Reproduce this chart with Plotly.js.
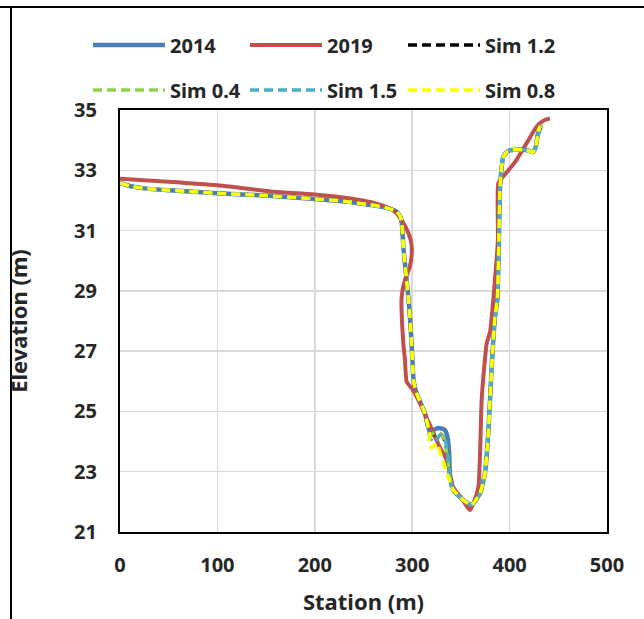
<!DOCTYPE html>
<html>
<head>
<meta charset="utf-8">
<script src="https://cdn.plot.ly/plotly-3.0.1.min.js"></script>
<style>html,body{margin:0;padding:0;background:#fff;}#chart{width:644px;height:619px;}</style>
</head>
<body>
<div id="chart"></div>
<script>
// ---- Data ----
const stn2014 = [0,10,25,50,100,150,200,230,257,272,284,288,289.5,290.9,293.5,296,298,299.5,300.5,301.5,304.6,313,318.3,321.7,326.8,333,336,338,338.8,342,352.5,361,369.6,374.7,378.1,381.6,385,387.4,389,390,391.5,393.5,398,405,417.5,424,427,429,432];
const elev2014 = [32.57,32.48,32.4,32.34,32.24,32.16,32.05,31.97,31.85,31.77,31.63,31.45,31.2,30.46,29.6,28.8,28.0,27.15,26.5,26.0,25.6,24.94,24.3,24.38,24.45,24.4,24.2,23.6,22.85,22.4,22.06,21.9,22.28,22.95,24.27,26.48,28.14,28.7,30.7,32.3,33.0,33.45,33.63,33.68,33.67,33.6,33.8,34.2,34.45];

const stn2019 = [0,50,100,154,200,240,265,278,284,290,295,299,299.5,297.5,292.6,290,289,289.5,291,292.6,294.3,301,308,318,328.5,335.4,342,352,356,359.3,363,368,371.3,374,376.5,380,384,388,388.4,393.5,400,407,417.5,427.8,435,441.5];
const elev2019 = [32.72,32.62,32.5,32.3,32.2,32.05,31.88,31.72,31.57,31.3,31.0,30.6,30.2,29.8,29.36,29.0,28.7,28.0,27.2,26.7,25.99,25.7,25.27,24.56,23.8,23.39,22.5,22.06,21.85,21.73,21.95,22.5,25.38,26.5,27.26,27.65,29.0,30.7,32.57,32.8,33.05,33.34,33.9,34.45,34.65,34.72];

const stnSim12 = [0,10,25,50,100,150,200,230,257,272,284,288,289.5,290.9,293.5,296,298,299.5,300.5,301.5,304.6,313,318.3,322,327,332,335,338,338.8,342,352.5,361,369.6,374.7,378.1,381.6,385,387.4,389,390,391.5,393.5,398,405,417.5,424,427,429,431];
const elevSim12 = [32.57,32.48,32.4,32.34,32.24,32.16,32.05,31.97,31.85,31.77,31.63,31.45,31.2,30.46,29.6,28.8,28.0,27.15,26.5,26.0,25.6,24.94,24.2,24.25,24.3,24.15,23.8,23.0,22.85,22.4,22.06,21.9,22.28,22.95,24.27,26.48,28.14,28.7,30.7,32.3,33.0,33.45,33.63,33.68,33.67,33.6,33.8,34.2,34.45];

const stnSim04 = [0,10,25,50,100,150,200,230,257,272,284,288,289.5,290.9,293.5,296,298,299.5,300.5,301.5,304.6,313,318.3,322,327,332,335,338,338.8,342,352.5,361,369.6,374.7,378.1,381.6,385,387.4,389,390,391.5,393.5,398,405,417.5,424,427,429,431,436];
const elevSim04 = [32.57,32.48,32.4,32.34,32.24,32.16,32.05,31.97,31.85,31.77,31.63,31.45,31.2,30.46,29.6,28.8,28.0,27.15,26.5,26.0,25.6,24.94,24.2,24.28,24.32,24.15,23.8,23.0,22.85,22.4,22.06,21.9,22.28,22.95,24.27,26.48,28.14,28.7,30.7,32.3,33.0,33.45,33.63,33.68,33.67,33.6,33.8,34.2,34.45,34.45];

const stnSim15 = [0,10,25,50,100,150,200,230,257,272,284,288,289.5,290.9,293.5,296,298,299.5,300.5,301.5,304.6,313,318.3,321,325,328.5,333.7,337,338.8,342,352.5,361,369.6,374.7,378.1,381.6,385,387.4,389,390,391.5,393.5,398,405,417.5,424,427,429,431];
const elevSim15 = [32.57,32.48,32.4,32.34,32.24,32.16,32.05,31.97,31.85,31.77,31.63,31.45,31.2,30.46,29.6,28.8,28.0,27.15,26.5,26.0,25.6,24.94,24.16,23.98,24.05,24.22,24.05,23.45,22.85,22.4,22.06,21.9,22.28,22.95,24.27,26.48,28.14,28.7,30.7,32.3,33.0,33.45,33.63,33.68,33.67,33.6,33.8,34.2,34.45];

const stnSim08 = [0,10,25,50,100,150,200,230,257,272,284,288,289.5,290.9,293.5,296,298,299.5,300.5,301.5,304.6,313,318.3,317,320,325,330,337,342,352.5,361,369.6,374.7,378.1,381.6,385,387.4,389,390,391.5,393.5,398,405,417.5,424,427,429,431];
const elevSim08 = [32.57,32.48,32.4,32.34,32.24,32.16,32.05,31.97,31.85,31.77,31.63,31.45,31.2,30.46,29.6,28.8,28.0,27.15,26.5,26.0,25.6,24.94,24.16,24.0,23.78,23.94,23.5,22.83,22.4,22.06,21.9,22.28,22.95,24.27,26.48,28.14,28.7,30.7,32.3,33.0,33.45,33.63,33.68,33.67,33.6,33.8,34.2,34.45];

const seriesNames = ['2014','2019','Sim 1.2','Sim 0.4','Sim 1.5','Sim 0.8'];
const xTicks = [0,100,200,300,400,500];
const yTicks = [21,23,25,27,29,31,33,35];

// ---- Chart ----
const FONT = 'Noto Sans, Open Sans, sans-serif';
const sm = 0.5;
const DASH = '9px,5px';
const legendIds = ['legend','legend2','legend3','legend4','legend5','legend6'];
const traces = [
  {x: stn2014, y: elev2014, name: seriesNames[0], legend: legendIds[0], mode: 'lines',
   line: {color: '#4a7ebb', width: 4.5, shape: 'spline', smoothing: sm}},
  {x: stn2019, y: elev2019, name: seriesNames[1], legend: legendIds[1], mode: 'lines',
   line: {color: '#c0504d', width: 4, shape: 'spline', smoothing: sm}},
  {x: stnSim12, y: elevSim12, name: seriesNames[2], legend: legendIds[2], mode: 'lines',
   line: {color: '#000000', width: 3.5, dash: DASH, shape: 'spline', smoothing: sm}},
  {x: stnSim04, y: elevSim04, name: seriesNames[3], legend: legendIds[3], mode: 'lines',
   line: {color: '#8fd14f', width: 3.5, dash: DASH, shape: 'spline', smoothing: sm}},
  {x: stnSim15, y: elevSim15, name: seriesNames[4], legend: legendIds[4], mode: 'lines',
   line: {color: '#4bacc6', width: 3.5, dash: DASH, shape: 'spline', smoothing: sm}},
  {x: stnSim08, y: elevSim08, name: seriesNames[5], legend: legendIds[5], mode: 'lines',
   line: {color: '#ffff00', width: 3.5, dash: DASH, shape: 'spline', smoothing: sm}}
];

const L = 120, R = 607, T = 110, B = 532, W = 644, H = 619;
function px2x(p){ return (p - L) / (R - L); }
function py2y(p){ return (B - p) / (B - T); }

const ITEMW = 72;
const legendCommon = {
  orientation: 'h', xref: 'container', yref: 'container',
  xanchor: 'left', yanchor: 'middle', itemwidth: ITEMW,
  font: {family: FONT, size: 20, color: '#262626', weight: 'bold'},
  bgcolor: 'rgba(0,0,0,0)', borderwidth: 0
};
// legend entry text start (px) and row centre (px)
const textX = [172, 329, 487, 172, 329, 487];
const rowY = [45, 45, 45, 90, 90, 90];

const layout = {
  width: W, height: H,
  margin: {l: L, r: W - R, t: T, b: H - B, pad: 0},
  paper_bgcolor: '#ffffff', plot_bgcolor: '#ffffff',
  font: {family: FONT, color: '#262626'},
  showlegend: true,
  xaxis: {
    range: [0, 500], tickvals: xTicks, ticktext: xTicks.map(String),
    showgrid: true, gridcolor: '#d9d9d9', gridwidth: 1.5, zeroline: false,
    showline: true, mirror: true, linecolor: '#000000', linewidth: 2,
    ticks: '', ticklabelstandoff: 14,
    tickfont: {family: FONT, size: 20, color: '#262626', weight: 'bold'},
    title: {text: 'Station (m)', font: {family: FONT, size: 22, color: '#262626', weight: 'bold'}, standoff: 18}
  },
  yaxis: {
    range: [21, 35], tickvals: yTicks, ticktext: yTicks.map(String),
    showgrid: true, gridcolor: '#d9d9d9', gridwidth: 1.5, zeroline: false,
    showline: true, mirror: true, linecolor: '#000000', linewidth: 2,
    ticks: '', ticklabelstandoff: 17,
    tickfont: {family: FONT, size: 20, color: '#262626', weight: 'bold'},
    title: {text: 'Elevation (m)', font: {family: FONT, size: 22, color: '#262626', weight: 'bold'}, standoff: 40}
  },
  shapes: [
    {type: 'line', xref: 'paper', yref: 'paper', x0: px2x(0), x1: px2x(W), y0: py2y(7), y1: py2y(7),
     line: {color: '#000000', width: 2}},
    {type: 'line', xref: 'paper', yref: 'paper', x0: px2x(11), x1: px2x(11), y0: py2y(7), y1: py2y(H),
     line: {color: '#000000', width: 2}}
  ]
};
legendIds.forEach(function(id, i){
  layout[id] = Object.assign({}, legendCommon, {
    x: (textX[i] - ITEMW - 12) / W,
    y: 1 - rowY[i] / H
  });
});

Plotly.newPlot('chart', traces, layout, {staticPlot: true, displayModeBar: false});
</script>
</body>
</html>
